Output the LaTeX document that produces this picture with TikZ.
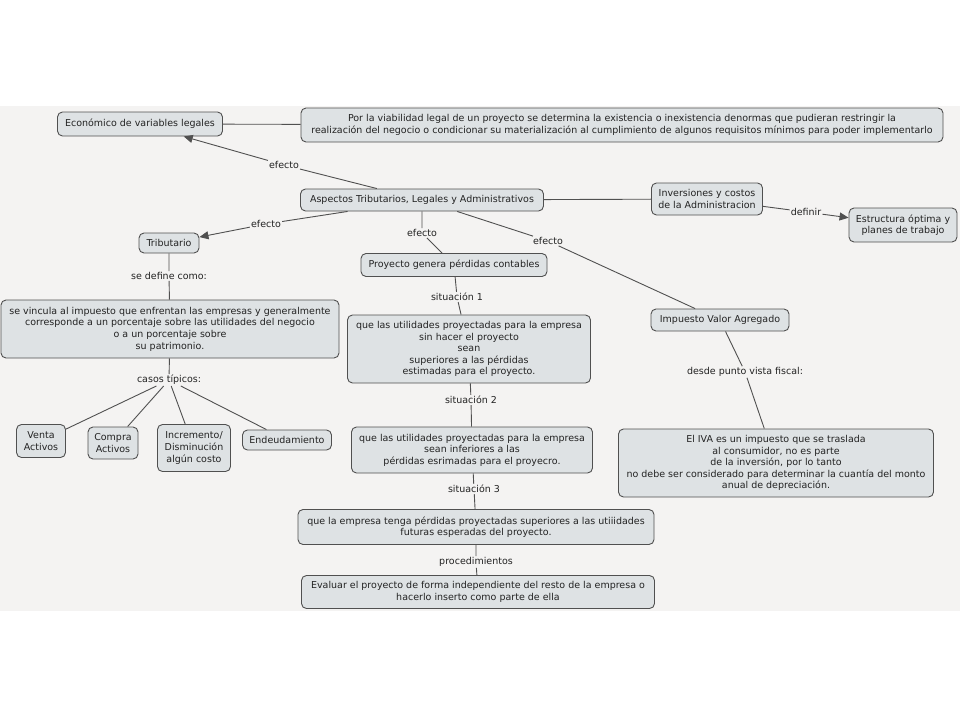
\documentclass[tikz,border=0pt]{standalone}
\usepackage{fontspec}
\setmainfont{DejaVu Sans}
\usetikzlibrary{arrows.meta}
\definecolor{bandgray}{RGB}{244, 243, 242}
\definecolor{conceptfill}{RGB}{222, 226, 228}
\definecolor{edgegray}{RGB}{80, 80, 80}
\definecolor{textgray}{RGB}{35, 35, 35}

\begin{document}
\begin{tikzpicture}[
  x=1pt, y=-1pt,
  concept/.style={draw=edgegray, line width=0.9pt, fill=conceptfill, rounded corners=5pt,
                  align=center, text=textgray, font=\fontsize{9.5}{11.6}\selectfont,
                  inner xsep=3pt, inner ysep=2pt},
  link/.style={fill=bandgray, text=textgray, font=\fontsize{9.5}{11.6}\selectfont, inner sep=1pt},
  line/.style={draw=edgegray, line width=0.9pt},
  arrow/.style={line, -{Triangle[length=9pt, width=8pt]}}
]
  \useasboundingbox (0,0) rectangle (960,720);
  \fill[bandgray] (0,106) rectangle (960,611);

  % Top row
  \node[concept, minimum width=165pt, minimum height=24pt] (economico) at (140,124)
    {Económico de variables legales};
  \node[concept, minimum width=642pt, minimum height=34pt] (viabilidad) at (622,125)
    {Por la viabilidad legal de un proyecto se determina la existencia o inexistencia denormas que pudieran restringir la\\
     realización del negocio o condicionar su materialización al cumplimiento de algunos requisitos mínimos para poder implementarlo};

  % Central concept
  \node[concept, minimum width=243pt, minimum height=22pt] (aspectos) at (422,200)
    {Aspectos Tributarios, Legales y Administrativos};
  \node[concept, minimum width=111pt, minimum height=32pt] (inversiones) at (707,199)
    {Inversiones y costos\\de la Administracion};
  \node[concept, minimum width=108pt, minimum height=34pt] (estructura) at (903,225)
    {Estructura óptima y\\planes de trabajo};

  % Tributario branch
  \node[concept, minimum width=60pt, minimum height=20pt] (tributario) at (169,243) {Tributario};
  \node[concept, minimum width=338pt, minimum height=58pt] (vincula) at (170,329)
    {se vincula al impuesto que enfrentan las empresas y generalmente\\
     corresponde a un porcentaje sobre las utilidades del negocio\\
     o a un porcentaje sobre\\su patrimonio.};
  \node[concept, minimum width=49pt, minimum height=33pt] (venta) at (41,441) {Venta\\Activos};
  \node[concept, minimum width=50pt, minimum height=32pt] (compra) at (113,443) {Compra\\Activos};
  \node[concept, minimum width=73pt, minimum height=47pt] (incremento) at (194,448)
    {Incremento/\\Disminución\\algún costo};
  \node[concept, minimum width=89pt, minimum height=20pt] (endeuda) at (287,440) {Endeudamiento};

  % Perdidas branch
  \node[concept, minimum width=186pt, minimum height=23pt] (genera) at (454,265)
    {Proyecto genera pérdidas contables};
  \node[concept, minimum width=243pt, minimum height=68pt] (superiores) at (469,349)
    {que las utilidades proyectadas para la empresa\\sin hacer el proyecto\\sean\\
     superiores a las pérdidas\\estimadas para el proyecto.};
  \node[concept, minimum width=241pt, minimum height=46pt] (inferiores) at (472,450)
    {que las utilidades proyectadas para la empresa\\sean inferiores a las\\
     pérdidas esrimadas para el proyecro.};
  \node[concept, minimum width=356pt, minimum height=35pt] (tenga) at (476,527)
    {que la empresa tenga pérdidas proyectadas superiores a las utiiidades\\
     futuras esperadas del proyecto.};
  \node[concept, minimum width=353pt, minimum height=33pt] (evaluar) at (478,592)
    {Evaluar el proyecto de forma independiente del resto de la empresa o\\
     hacerlo inserto como parte de ella};

  % IVA branch
  \node[concept, minimum width=138pt, minimum height=22pt] (iva) at (720,320) {Impuesto Valor Agregado};
  \node[concept, minimum width=315pt, minimum height=68pt] (traslada) at (776,463)
    {El IVA es un impuesto que se traslada\\al consumidor, no es parte\\de la inversión, por lo tanto\\
     no debe ser considerado para determinar la cuantía del monto\\anual de depreciación.};

  % Link labels
  \node[link] (lefecto1) at (284,165) {efecto};
  \node[link] (lefecto2) at (266,224) {efecto};
  \node[link] (lefecto3) at (422,233) {efecto};
  \node[link] (lefecto4) at (548,241) {efecto};
  \node[link] (ldefinir) at (806,212) {definir};
  \node[link] (ldefine) at (169,276) {se define como:};
  \node[link] (lcasos) at (169,380) {casos típicos:};
  \node[link] (lsit1) at (457,297) {situación 1};
  \node[link] (lsit2) at (471,400) {situación 2};
  \node[link] (lsit3) at (474,489) {situación 3};
  \node[link] (lproc) at (476,562) {procedimientos};
  \node[link] (lfiscal) at (745,372) {desde punto vista fiscal:};

  % Connectors
  \draw[line] (economico) -- (viabilidad);
  \draw[line] (aspectos) -- (lefecto1);
  \draw[arrow] (lefecto1) -- (economico);
  \draw[line] (aspectos) -- (lefecto2);
  \draw[arrow] (lefecto2) -- (tributario);
  \draw[line] (aspectos) -- (lefecto3) -- (genera);
  \draw[line] (aspectos) -- (lefecto4) -- (iva);
  \draw[line] (aspectos) -- (inversiones);
  \draw[line] (inversiones) -- (ldefinir);
  \draw[arrow] (ldefinir) -- (estructura);

  \draw[line] (tributario) -- (ldefine) -- (vincula);
  \draw[line] (vincula) -- (lcasos);
  \draw[line] (lcasos) -- (venta);
  \draw[line] (lcasos) -- (compra);
  \draw[line] (lcasos) -- (incremento);
  \draw[line] (lcasos) -- (endeuda);

  \draw[line] (genera) -- (lsit1) -- (superiores);
  \draw[line] (superiores) -- (lsit2) -- (inferiores);
  \draw[line] (inferiores) -- (lsit3) -- (tenga);
  \draw[line] (tenga) -- (lproc) -- (evaluar);

  \draw[line] (iva) -- (lfiscal) -- (traslada);

\end{tikzpicture}
\end{document}
